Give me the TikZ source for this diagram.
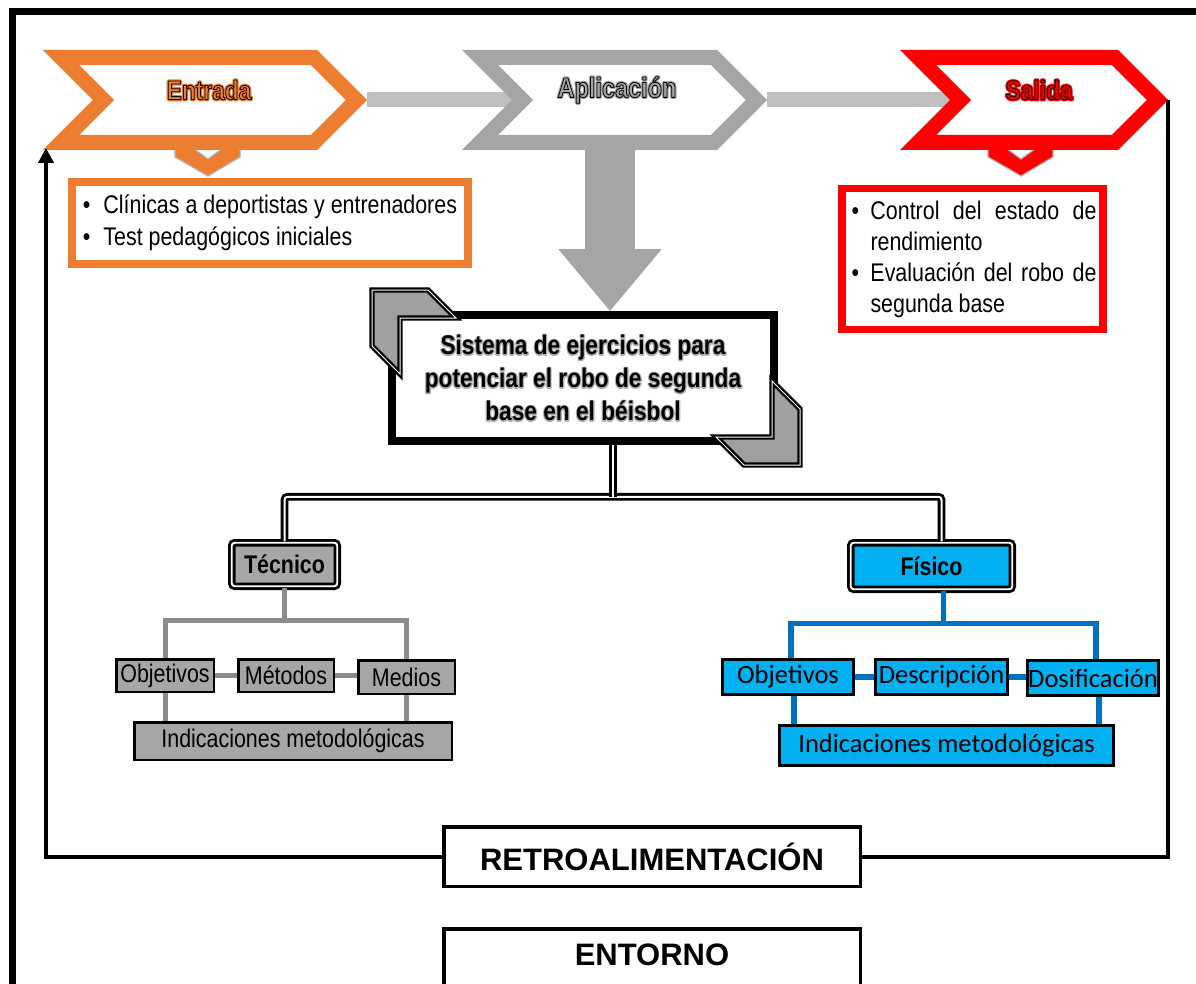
\documentclass[tikz,border=0pt]{standalone}
\usepackage{fontspec}
\usetikzlibrary{arrows.meta,positioning}
\setmainfont{Liberation Sans}
\newfontfamily\narrowfont[FakeStretch=0.84]{Liberation Sans}
\newfontfamily\calfont{Carlito}
\definecolor{entOrange}{HTML}{ED7D31}
\definecolor{aplGray}{HTML}{A5A5A5}
\definecolor{salRed}{HTML}{FF0000}
\definecolor{barGray}{HTML}{BFBFBF}
\definecolor{boxGray}{HTML}{A6A6A6}
\definecolor{ornGray}{HTML}{A0A0A0}
\definecolor{lineGray}{HTML}{8C8C8C}
\definecolor{fisCyan}{HTML}{00B0F0}
\definecolor{lineBlue}{HTML}{0070C0}
% fill colour, stroke rgb, stroke width, text
\newcommand\edgetext[4]{\textcolor{#1}{\special{pdf:literal direct #2 RG #3 w 2 Tr}#4\special{pdf:literal direct 0 Tr}}}
% soft halo behind a text: stroke rgb, stroke width, text
\newcommand\halo[3]{\rlap{\special{pdf:literal direct #1 RG #2 w 1 j 1 Tr}#3\special{pdf:literal direct 0 Tr 0 j}}}

\begin{document}
\begin{tikzpicture}[x=1pt,y=-1pt,
  chev/.style={line width=15pt,line join=miter},
  bar/.style={barGray,line width=15pt},
  vconn/.style={draw=gray!60,line width=1.2pt},
  hdr/.style={inner sep=0pt,font=\narrowfont\bfseries\fontsize{27}{30}\selectfont},
  lst/.style={inner xsep=8pt,inner ysep=0pt,align=left,
              font=\narrowfont\fontsize{25.5}{32}\selectfont},
  sisbox/.style={draw,fill=white,line width=7.5pt,minimum width=382pt,
                 minimum height=126pt,align=center,inner sep=0pt,
                 font=\narrowfont\bfseries\fontsize{27}{33}\selectfont},
  orn/.style={fill=ornGray,draw=black,line width=2.2pt,double=white,
              double distance=1pt,line join=miter},
  bigarr/.style={aplGray,line width=50pt,-{Triangle[length=62pt,width=99pt]}},
  dline/.style={draw=black,line width=2.8pt,double=white,double distance=2pt,
                rounded corners=3pt},
  hbox/.style={draw=black,line width=2.8pt,double=white,double distance=1.9pt,
               rounded corners=3pt,inner sep=0pt,
               font=\narrowfont\bfseries\fontsize{25.5}{28}\selectfont},
  graybox/.style={draw=black,line width=2.5pt,fill=boxGray,inner sep=0pt,
                  font=\narrowfont\fontsize{25.5}{28}\selectfont},
  bluebox/.style={draw=black,line width=2.8pt,fill=fisCyan,inner sep=0pt,
                  font=\calfont\fontsize{26.5}{28}\selectfont},
  gline/.style={lineGray,line width=5pt},
  bline/.style={lineBlue,line width=5.5pt},
  fb/.style={line width=4pt},
  fbbox/.style={draw=black,line width=3.5pt,fill=white,inner sep=0pt,
                minimum width=416.5pt,font=\bfseries\fontsize{31}{34}\selectfont}
]
\useasboundingbox (0,0) rectangle (1196,984);
\clip (0,0) rectangle (1196,984);

% ---- Outer frame --------------------------------------------
\draw[line width=7pt,line join=miter] (1210,12) -- (12,12) -- (12,1000);

% ---- Process chain ------------------------------------------
\coordinate (ent-tip)   at (367,100);
\coordinate (apl-notch) at (512,100);
\coordinate (apl-tip)   at (767,100);
\coordinate (sal-notch) at (950,100);
\coordinate (sal-tip)   at (1168,100);
\coordinate (ent-foot)  at (46,148);
\coordinate (apl-drop)  at (610,145);

\draw[bar] (ent-tip) -- (apl-notch);
\draw[bar] (apl-tip) -- (sal-notch);

\foreach \x/\col in {175/entOrange,988/salRed}
  \filldraw[vconn,fill=\col] (\x,146) -- (\x,157) -- (\x+33,176) -- (\x+65,157)
    -- (\x+65,146) -- (\x+51,146) -- (\x+33,159) -- (\x+15,146) -- cycle;

% ---- Central system -----------------------------------------
\node[sisbox] (sis) at (583,378)
  {\halo{0.7 0.7 0.7}{2.4}{Sistema de ejercicios para}Sistema de ejercicios para\\
   \halo{0.7 0.7 0.7}{2.4}{potenciar el robo de segunda}potenciar el robo de segunda\\
   \halo{0.7 0.7 0.7}{2.4}{base en el béisbol}base en el béisbol};
\draw[bigarr] (apl-drop) -- (apl-drop |- sis.north);

\filldraw[orn] (372,290) -- (428,290) -- (456,318) -- (400,318) -- (400,374)
  -- (372,346) -- cycle;
\filldraw[orn] (800,465) -- (744,465) -- (716,437) -- (772,437) -- (772,381)
  -- (800,409) -- cycle;

\foreach \L/\R/\col in {43/367/entOrange,462/767/aplGray,900/1168/salRed}
  \draw[chev,draw=\col] (\L+18.1,57.5) -- (\R-53.1,57.5) -- (\R-10.6,100)
    -- (\R-53.1,142.5) -- (\L+18.1,142.5) -- (\L+60.6,100) -- cycle;

\node[hdr] (ent-lbl) at (209,90)
  {\halo{0.93 0.49 0.19}{3.2}{Entrada}\edgetext{entOrange}{0 0 0}{0.8}{Entrada}};
\node[hdr,font=\narrowfont\bfseries\fontsize{28}{30}\selectfont] (apl-lbl) at (617,90)
  {\halo{0.65 0.65 0.65}{3.2}{Aplicación}\edgetext{aplGray}{0 0 0}{0.8}{Aplicación}};
\node[hdr] (sal-lbl) at (1039,90)
  {\halo{1 0 0}{3.2}{Salida}\edgetext{salRed}{0 0 0}{0.8}{Salida}};

% ---- Input and output lists ---------------------------------
\node[lst,draw=entOrange,line width=8pt,minimum width=396pt,minimum height=82pt]
  (ent-box) at (270,223)
  {\textbullet\hspace{13pt}Clínicas a deportistas y entrenadores\\
   \textbullet\hspace{13pt}Test pedagógicos iniciales};

\node[lst,draw=salRed,line width=7.5pt,minimum width=261pt,minimum height=141pt,
      text width=248pt,inner xsep=6.5pt,align=justify,
      font=\narrowfont\fontsize{25.5}{31}\selectfont] (sal-box) at (972.5,259)
  {\noindent\hangindent=22pt\hangafter=1\makebox[22pt][l]{\hspace*{3pt}\textbullet}Control del estado de rendimiento\par
   \noindent\hangindent=22pt\hangafter=1\makebox[22pt][l]{\hspace*{3pt}\textbullet}Evaluación del robo de segunda base\par};

% ---- Branches -----------------------------------------------
\node[hbox,fill=boxGray,minimum width=105.5pt,minimum height=43.5pt] (tec) at (284.5,564.5) {Técnico};
\node[hbox,fill=fisCyan,minimum width=161.5pt,minimum height=46.5pt] (fis) at (931.5,566) {Físico};

\coordinate (split) at ([xshift=30pt,yshift=-52pt]sis.south);
\draw[dline] (tec.north) |- (split) -| ([xshift=10pt]fis.north);
\draw[dline] ([xshift=30pt]sis.south) -- (split);

% ---- Technical side -----------------------------------------
\node[graybox,minimum width=97.5pt,minimum height=32.5pt]  (g-obj) at (165,675.5) {Objetivos};
\node[graybox,minimum width=95.5pt,minimum height=32.5pt]  (g-met) at (286,675.5) {Métodos};
\node[graybox,minimum width=96.5pt,minimum height=33.5pt]  (g-med) at (406.5,677) {Medios};
\node[graybox,minimum width=317.5pt,minimum height=37.5pt] (g-ind) at (293,741) {Indicaciones metodológicas};

\draw[gline] (tec.south) -- ++(0,33) coordinate (g-split) -| (g-obj.north);
\draw[gline] (g-split) -| (g-med.north);
\draw[gline] (g-obj.east) -- (g-met.west);
\draw[gline] (g-met.east) -- (g-met.east -| g-med.west);
\draw[gline] (g-obj.south) -- (g-obj.south |- g-ind.north);
\draw[gline] (g-med.south) -- (g-med.south |- g-ind.north);

% ---- Physical side ------------------------------------------
\node[bluebox,minimum width=131.5pt,minimum height=35.5pt] (b-obj) at (788,677) {Objetivos};
\node[bluebox,minimum width=132.5pt,minimum height=35.5pt] (b-des) at (941.5,677) {Descripción};
\node[bluebox,minimum width=131.5pt,minimum height=35.5pt] (b-dos) at (1093,678) {Dosificación};
\node[bluebox,minimum width=334.5pt,minimum height=40.5pt] (b-ind) at (946.5,745.5) {Indicaciones metodológicas};

\draw[bline] ([xshift=12pt]fis.south) -- ++(0,33) coordinate (b-split) -| ([xshift=3pt]b-obj.north);
\draw[bline] (b-split) -| ([xshift=3pt]b-dos.north);
\draw[bline] (b-obj.east) -- (b-des.west);
\draw[bline] (b-des.east) -- (b-des.east -| b-dos.west);
\draw[bline] ([xshift=6pt]b-obj.south) -- ([xshift=6pt]b-obj.south |- b-ind.north);
\draw[bline] ([xshift=6pt]b-dos.south) -- ([xshift=6pt]b-dos.south |- b-ind.north);

% ---- Feedback and environment -------------------------------
\node[fbbox,minimum height=59.5pt] (retro) at (652,856.5) {RETROALIMENTACIÓN};
\node[fbbox,anchor=north,text height=37pt,text depth=60pt] (entorno) at (652,927) {ENTORNO};

\draw[fb] (sal-tip) |- (retro.east);
\draw[fb,-{Triangle[length=15pt,width=15pt]}] (retro.west) -| (ent-foot);

\end{tikzpicture}
\end{document}
